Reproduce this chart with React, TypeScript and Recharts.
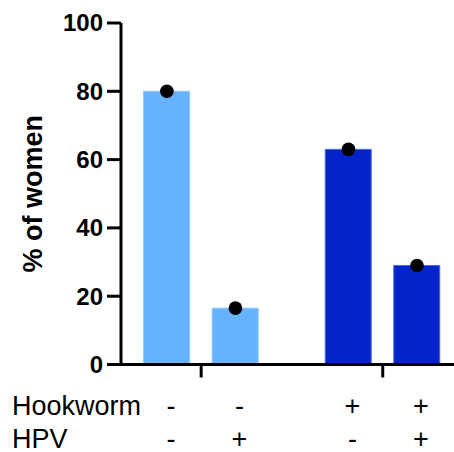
import { Bar, Cell, ComposedChart, Scatter, XAxis, YAxis } from "recharts"

// study groups, in plotting order
const hookworm = ["-", "-", "+", "+"]
const hpv = ["-", "+", "-", "+"]
const women = [80, 16.5, 63, 29]
const yTicks = [0, 20, 40, 60, 80, 100]

const FONT = "'Liberation Sans', Arial, Helvetica, sans-serif"
const LIGHT = "#66b2ff"
const DARK = "#0423c9"
const GROUP_STEP = 2.65

const data = women.map((value, i) => {
  const group = hookworm[i] === "+" ? 1 : 0
  const inGroup = i - hookworm.indexOf(hookworm[i])
  return { pos: 1 + group * GROUP_STEP + inGroup, value, worm: hookworm[i], hpv: hpv[i] }
})

// one tick mark under the middle of each hookworm group
const groupTicks = [0, 1].map(g => {
  const members = data.filter((_, i) => (hookworm[i] === "+" ? 1 : 0) === g)
  return members.reduce((s, d) => s + d.pos, 0) / members.length
})

const YTick = ({ x, y, payload }: any) => (
  <text x={x} y={y} dy="0.35em" textAnchor="end" fontFamily={FONT} fontWeight="bold" fontSize={24} fill="#000">
    {payload.value}
  </text>
)

const TableTick = ({ x, y, index }: any) => (
  <g fontFamily={FONT} fontSize={27} fill="#000" textAnchor="middle">
    <text x={x + 4} y={y + 36}>{hookworm[index]}</text>
    <text x={x + 4} y={y + 69}>{hpv[index]}</text>
  </g>
)

const RowTitles = ({ viewBox }: any) => (
  <g fontFamily={FONT} fontSize={27} fill="#000">
    <text x={viewBox.x - 109} y={viewBox.y + 36}>Hookworm</text>
    <text x={viewBox.x - 109} y={viewBox.y + 69}>HPV</text>
  </g>
)

const YTitle = ({ viewBox }: any) => (
  <text
    transform={`translate(${viewBox.x + 42}, ${viewBox.y + viewBox.height / 2}) rotate(-90)`}
    textAnchor="middle"
    fontFamily={FONT}
    fontWeight="bold"
    fontSize={27}
    fill="#000"
  >
    % of women
  </text>
)

const Dot = ({ cx, cy }: any) => <circle cx={cx} cy={cy} r={6.8} fill="#000" />

export default function App() {
  return (
    <div style={{ position: "absolute", left: 0, top: 0 }}>
      <ComposedChart width={454} height={452} data={data} margin={{ top: 23, right: 0, left: 0, bottom: 0 }}>
        <YAxis
          type="number"
          domain={[0, 100]}
          ticks={yTicks}
          width={121}
          tickSize={14}
          tickMargin={4}
          tick={<YTick />}
          axisLine={{ stroke: "#000", strokeWidth: 3 }}
          tickLine={{ stroke: "#000", strokeWidth: 3 }}
          label={<YTitle />}
        />
        <XAxis
          xAxisId="groups"
          type="number"
          dataKey="pos"
          domain={[0.33, 5.19]}
          ticks={groupTicks}
          tickSize={13}
          tick={() => <g />}
          height={14}
          axisLine={{ stroke: "#000", strokeWidth: 3 }}
          tickLine={{ stroke: "#000", strokeWidth: 3 }}
        />
        <XAxis
          xAxisId="table"
          type="number"
          dataKey="pos"
          domain={[0.33, 5.19]}
          ticks={data.map(d => d.pos)}
          tickSize={0}
          tickMargin={0}
          tick={<TableTick />}
          height={73.5}
          axisLine={false}
          tickLine={false}
          label={<RowTitles />}
        />
        <Bar xAxisId="groups" dataKey="value" barSize={46} isAnimationActive={false}>
          {data.map((d, i) => (
            <Cell key={i} fill={d.worm === "+" ? DARK : LIGHT} stroke={d.worm === "+" ? "#5068dd" : "#8cc5ff"} strokeWidth={1} />
          ))}
        </Bar>
        <Scatter xAxisId="groups" dataKey="value" shape={<Dot />} isAnimationActive={false} />
      </ComposedChart>
    </div>
  )
}
